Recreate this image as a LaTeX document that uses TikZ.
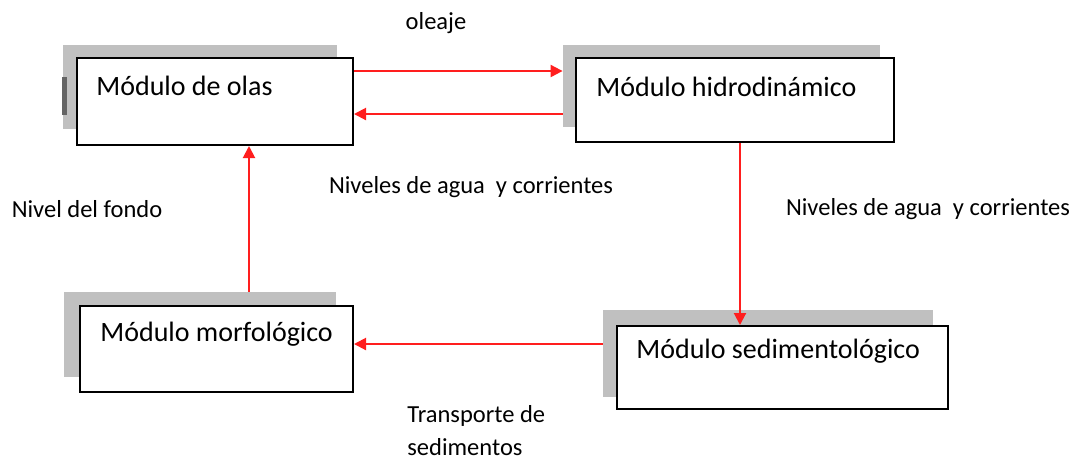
\documentclass[tikz,border=0pt]{standalone}
\usepackage{fontspec}
\setmainfont{Carlito}
\usetikzlibrary{arrows.meta, positioning}
\definecolor{sombragris}{RGB}{192,192,192}
\definecolor{barragris}{RGB}{100,100,100}
\definecolor{flujorojo}{RGB}{255,30,30}
\tikzset{modulo/.style={rectangle, draw=black, fill=white, line width=1pt, inner sep=0pt},sombra/.style={rectangle, fill=sombragris, draw=none, inner sep=0pt}}
\tikzset{titulo/.style={anchor=west, inner sep=0pt, font=\fontsize{14}{17}\selectfont},etiqueta/.style={inner sep=0pt, font=\fontsize{12.25}{16.5}\selectfont}}

\begin{document}
\begin{tikzpicture}[
        x=0.5pt, y=-0.5pt,
        flujo/.style={flujorojo, line width=1pt, -{Triangle[length=6pt, width=6pt]}},
    ]
        \useasboundingbox (0,0) rectangle (1078,463);
        % Shadows
        \node[sombra, minimum width=137pt, minimum height=42pt] (olassh) at (200,87) {};
        \node[sombra, minimum width=158.5pt, minimum height=41pt] (hidrosh) at (721.5,86) {};
        \node[sombra, minimum width=136pt, minimum height=42.5pt] (morfosh) at (200,334.5) {};
        \node[sombra, minimum width=165pt, minimum height=43.5pt] (sedimsh) at (768,353.5) {};
        \fill[barragris] (62,77) rectangle (67,115);
        % Boxes
        \node[modulo, minimum width=138pt, minimum height=43.5pt] (olas) at (215,101.5) {};
        \node[modulo, minimum width=159pt, minimum height=42pt] (hidro) at (735,100) {};
        \node[modulo, minimum width=136.5pt, minimum height=43pt] (morfo) at (216.5,349) {};
        \node[modulo, minimum width=165.5pt, minimum height=41.5pt] (sedim) at (782.5,367.5) {};
        % Box titles
        \node[titulo] (olast) at ([xshift=10pt, yshift=-14.5pt]olas.north west) {Módulo de olas};
        \node[titulo] (hidrot) at ([xshift=10.5pt, yshift=-15pt]hidro.north west) {Módulo hidrodinámico};
        \node[titulo] (morfot) at ([xshift=10.5pt, yshift=-14.5pt]morfo.north west) {Módulo morfológico};
        \node[titulo] (sedimt) at ([xshift=10pt, yshift=-13pt]sedim.north west) {Módulo sedimentológico};
        % Arrows
        \draw[flujo] (olas.east |- 0,71) -- (hidrosh.west |- 0,71);
        \draw[flujo] (hidrosh.west |- 0,114) -- (olas.east |- 0,114);
        \draw[flujo] (hidro.south -| 740,0) -- (sedim.north -| 740,0);
        \draw[flujo] (sedimsh.west |- 0,344) -- (morfo.east |- 0,344);
        \draw[flujo] (morfosh.north -| 249,0) -- (olas.south -| 249,0);
        % Labels
        \node[etiqueta] (oleaje) at (436,23) {oleaje};
        \node[etiqueta] (niveles) at (471,187) {Niveles de agua\ \ y corrientes};
        \node[etiqueta] (nivelesd) at (928,209) {Niveles de agua\ \ y corrientes};
        \node[etiqueta] (fondo) at (87,209) {Nivel del fondo};
        \node[etiqueta, anchor=west, align=left] (transporte) at (407,431) {Transporte de\\sedimentos};
    \end{tikzpicture}
\end{document}
